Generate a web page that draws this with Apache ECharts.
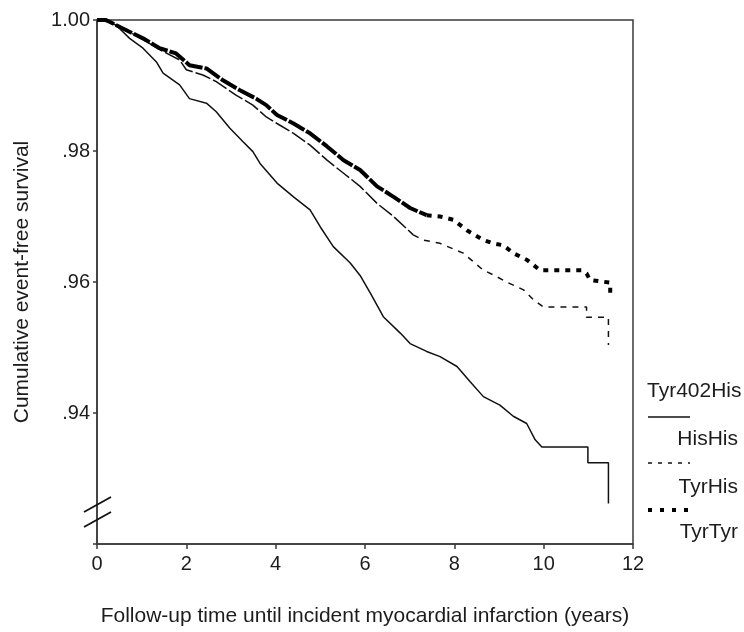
<!DOCTYPE html>
<html>
<head>
<meta charset="utf-8">
<script src="https://cdn.jsdelivr.net/npm/echarts@6/dist/echarts.min.js"></script>
<style>
html,body{margin:0;padding:0;background:#fff;}
#chart{width:744px;height:632px;}
</style>
</head>
<body>
<div id="chart"></div>
<script>
// Follow-up time (years) and cumulative event-free survival
const hisHisT = [0, 0.2, 0.43, 0.73, 1.03, 1.33, 1.48, 1.85, 2.07, 2.45, 2.67, 2.97, 3.27, 3.49, 3.65, 4.03, 4.40, 4.77, 5.00, 5.29, 5.67, 5.89, 6.12, 6.41, 6.79, 7.01, 7.38, 7.68, 8.06, 8.35, 8.65, 9.02, 9.32, 9.62, 9.81, 9.96, 10.99, 10.99, 11.45, 11.45];
const hisHisS = [1.0, 1.0, 0.9992, 0.9972, 0.9957, 0.9936, 0.9919, 0.9901, 0.9880, 0.9873, 0.9860, 0.9835, 0.9814, 0.9799, 0.9781, 0.9751, 0.9730, 0.9710, 0.9684, 0.9654, 0.9629, 0.9610, 0.9583, 0.9547, 0.9522, 0.9506, 0.9494, 0.9486, 0.9471, 0.9448, 0.9425, 0.9412, 0.9395, 0.9384, 0.9359, 0.9348, 0.9348, 0.9324, 0.9324, 0.9262];

const tyrHisT = [0, 0.28, 0.73, 1.18, 1.48, 1.85, 2.0, 2.37, 2.67, 3.12, 3.49, 3.79, 4.03, 4.40, 4.77, 5.15, 5.52, 5.89, 6.27, 6.64, 7.08, 7.31, 7.68, 8.20, 8.65, 8.87, 9.17, 9.55, 9.77, 9.99, 10.96, 10.96, 11.45, 11.45];
const tyrHisS = [1.0, 0.9997, 0.9982, 0.9964, 0.9952, 0.9939, 0.9924, 0.9916, 0.9906, 0.9885, 0.9870, 0.9852, 0.9842, 0.9827, 0.9809, 0.9786, 0.9766, 0.9746, 0.9720, 0.9700, 0.9672, 0.9664, 0.9659, 0.9644, 0.9618, 0.9611, 0.9600, 0.9588, 0.9573, 0.9562, 0.9562, 0.9546, 0.9546, 0.9504];

const tyrTyrT = [0, 0.2, 0.58, 1.03, 1.40, 1.77, 2.07, 2.45, 2.82, 3.19, 3.56, 3.79, 4.03, 4.40, 4.77, 5.15, 5.52, 5.89, 6.27, 6.64, 7.01, 7.38, 7.68, 7.98, 8.28, 8.65, 8.87, 9.10, 9.32, 9.62, 9.92, 10.85, 10.96, 11.04, 11.49, 11.49];
const tyrTyrS = [1.0, 1.0, 0.9987, 0.9972, 0.9957, 0.9949, 0.9931, 0.9926, 0.9908, 0.9893, 0.9880, 0.9870, 0.9855, 0.9842, 0.9827, 0.9807, 0.9786, 0.9771, 0.9746, 0.9730, 0.9713, 0.9702, 0.9700, 0.9695, 0.9679, 0.9664, 0.9659, 0.9656, 0.9644, 0.9634, 0.9618, 0.9618, 0.9613, 0.9603, 0.9599, 0.9578];

// index where the dense (nearly continuous) part of each dashed curve gives way to the sparse tail
const tyrHisSplit = 20;
const tyrTyrSplit = 21;

const seriesNames = ['HisHis', 'TyrHis', 'TyrTyr'];
const legendTitle = 'Tyr402His';
const xTicks = [0, 2, 4, 6, 8, 10, 12];
const yTicks = [0.94, 0.96, 0.98, 1.00];
const xTitle = 'Follow-up time until incident myocardial infarction (years)';
const yTitle = 'Cumulative event-free survival';

const FONT = "'Liberation Sans', Arial, sans-serif";
const INK = '#1c1c1c';
const AXIS = '#3a3a3a';

function pairs(t, s, a, b) {
  const out = t.map((v, i) => [v, s[i]]);
  return out.slice(a === undefined ? 0 : a, b === undefined ? out.length : b);
}

const chart = echarts.init(document.getElementById('chart'), null, {renderer: 'canvas'});
const base = {type: 'line', showSymbol: false, symbol: 'none', silent: true};
const option = {
  animation: false,
  backgroundColor: '#ffffff',
  grid: {left: 97, right: 111, top: 20, bottom: 88, show: true, borderColor: AXIS, borderWidth: 1.5, backgroundColor: 'transparent'},
  xAxis: {
    type: 'value', min: 0, max: 12, interval: 2,
    name: xTitle, nameLocation: 'middle', nameGap: 62,
    nameTextStyle: {fontFamily: FONT, fontSize: 21, color: INK},
    axisLine: {show: true, onZero: false, lineStyle: {color: AXIS, width: 1.5}},
    axisTick: {show: true, inside: false, length: 5, lineStyle: {color: AXIS, width: 1.5}},
    axisLabel: {show: true, margin: 10, fontFamily: FONT, fontSize: 20, color: INK,
      formatter: v => xTicks.indexOf(v) >= 0 ? String(v) : ''},
    splitLine: {show: false}
  },
  yAxis: {
    type: 'value', min: 0.92, max: 1.0, interval: 0.02,
    name: yTitle, nameLocation: 'middle', nameGap: 64,
    nameTextStyle: {fontFamily: FONT, fontSize: 21, color: INK},
    axisLine: {show: true, onZero: false, lineStyle: {color: AXIS, width: 1.5}},
    axisTick: {show: true, length: 4, lineStyle: {color: AXIS, width: 1.5}},
    axisLabel: {show: true, margin: 7, fontFamily: FONT, fontSize: 20, color: INK,
      formatter: function (v) {
        const r = Math.round(v * 100) / 100;
        if (!yTicks.some(t => Math.abs(t - r) < 1e-9)) return '';
        return r >= 1 ? '1.00' : '.' + Math.round(r * 100);
      }},
    splitLine: {show: false}
  },
  series: [
    Object.assign({}, base, {name: seriesNames[0], data: pairs(hisHisT, hisHisS),
      lineStyle: {color: '#111', width: 1.5, type: 'solid'}, z: 3}),
    Object.assign({}, base, {name: seriesNames[1], data: pairs(tyrHisT, tyrHisS, 0, tyrHisSplit + 1),
      lineStyle: {color: '#111', width: 1.5, type: [16, 3]}, z: 3}),
    Object.assign({}, base, {name: seriesNames[1], data: pairs(tyrHisT, tyrHisS, tyrHisSplit),
      lineStyle: {color: '#111', width: 1.5, type: [6, 6]}, z: 3}),
    Object.assign({}, base, {name: seriesNames[2], data: pairs(tyrTyrT, tyrTyrS, 0, tyrTyrSplit + 1),
      lineStyle: {color: '#000', width: 4, type: [18, 2]}, z: 4}),
    Object.assign({}, base, {name: seriesNames[2], data: pairs(tyrTyrT, tyrTyrS, tyrTyrSplit),
      lineStyle: {color: '#000', width: 4, type: [5, 6]}, z: 4})
  ],
  graphic: [
    // axis break marks
    {type: 'line', shape: {x1: 84, y1: 512, x2: 111, y2: 497}, style: {stroke: '#111', lineWidth: 1.8}, z: 10},
    {type: 'line', shape: {x1: 84, y1: 527, x2: 111, y2: 512}, style: {stroke: '#111', lineWidth: 1.8}, z: 10},
    // legend
    {type: 'text', left: 647, top: 381, style: {text: legendTitle, font: '21px ' + FONT, fill: INK}},
    {type: 'line', shape: {x1: 648, y1: 417, x2: 690, y2: 417}, style: {stroke: '#111', lineWidth: 1.4}},
    {type: 'text', right: 6, top: 429, style: {text: seriesNames[0], font: '21px ' + FONT, fill: INK}},
    {type: 'line', shape: {x1: 648, y1: 463, x2: 690, y2: 463}, style: {stroke: '#111', lineWidth: 1.4, lineDash: [4, 6]}},
    {type: 'text', right: 6, top: 477, style: {text: seriesNames[1], font: '21px ' + FONT, fill: INK}},
    {type: 'line', shape: {x1: 648, y1: 510, x2: 690, y2: 510}, style: {stroke: '#000', lineWidth: 3.8, lineDash: [4, 8]}},
    {type: 'text', right: 6, top: 522, style: {text: seriesNames[2], font: '21px ' + FONT, fill: INK}}
  ]
};
chart.setOption(option);
</script>
</body>
</html>
